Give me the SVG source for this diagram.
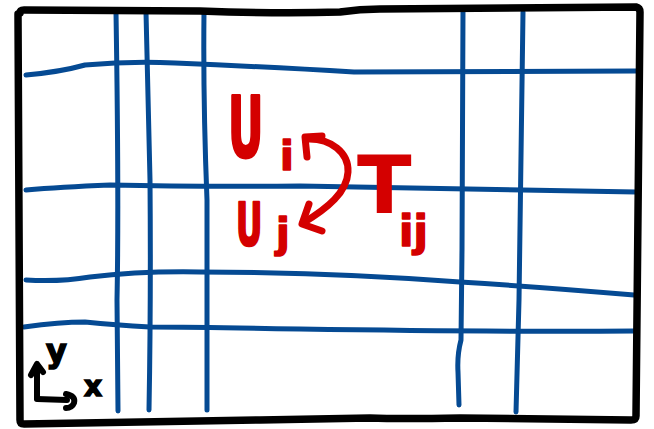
<svg xmlns="http://www.w3.org/2000/svg" width="654" height="429" viewBox="0 0 654 429">
<style>
.frame{fill:none;stroke:#000;stroke-width:7.5;stroke-linejoin:round;stroke-linecap:round}
.grid{fill:none;stroke:#054a93;stroke-width:5;stroke-linecap:round;stroke-linejoin:round}
.red{fill:#d40000;stroke:#d40000;stroke-linejoin:round;font-family:"DejaVu Sans",sans-serif;font-weight:bold}
.conn{fill:none;stroke:#d40000;stroke-width:7;stroke-linecap:round;stroke-linejoin:round}
.ax{fill:none;stroke:#000;stroke-width:6;stroke-linecap:round;stroke-linejoin:round}
.axt{fill:#000;stroke:#000;stroke-width:1.5;font-family:"DejaVu Sans",sans-serif;font-weight:bold}
</style>
<rect width="654" height="429" fill="#fff"/>
<g id="grid">
<path class="grid" d="M116,12 Q119,200 117,300 L118,411"/>
<path class="grid" d="M146,12 Q148,100 150,180 Q151,300 149,410"/>
<path class="grid" d="M204,12 Q203,100 207,200 L207,410"/>
<path class="grid" d="M463,8 Q462,150 462,250 L461,340 Q457,355 458,372 L459,405"/>
<path class="grid" d="M523,12 Q521,200 519,300 L516,412"/>
<path class="grid" d="M26,75 Q60,72 85,65 Q130,61 175,63 Q270,67 354,72 L636,71"/>
<path class="grid" d="M26,190 Q60,187 110,185 Q200,187 300,186 Q450,188 636,192"/>
<path class="grid" d="M26,280 Q60,282 90,277 Q140,271 200,272 Q330,272 460,282 Q540,287 634,295"/>
<path class="grid" d="M24,327 Q60,322 85,322 Q115,325 150,327 Q200,327 300,329 Q500,332 634,331"/>
</g>
<g id="frame">
<path class="frame" d="M20,13 Q20,10 24,10 L200,11 Q280,14 340,12 Q360,9 380,9 L636,7 Q640,8 640,12 L636,416 Q636,420 631,420 L460,418 Q400,419 370,418 L260,420 L24,424 Q20,424 20,420 L18,14"/>
</g>
<g id="node-Ui">
<text class="red" transform="translate(228,157) scale(0.52,1)" font-size="84" stroke-width="3">U</text>
<text class="red" x="280" y="170" font-size="40" stroke-width="1.5">i</text>
</g>
<g id="node-Uj">
<text class="red" transform="translate(236,245) scale(0.56,1)" font-size="58" stroke-width="2.5">U</text>
<text class="red" x="276" y="247" font-size="40" stroke-width="1.5">j</text>
</g>
<g id="node-Tij">
<text class="red" x="357" y="213" font-size="80" stroke-width="0" font-weight="normal" letter-spacing="-8">T</text>
<text class="red" x="399" y="246" font-size="42" stroke-width="1.5">ij</text>
</g>
<g id="connectors">
<path class="conn" d="M307,139 C331,138 349,153 348,172 C347,192 328,208 303,223"/>
<path class="conn" d="M322,136 L305,137 L307,157"/>
<path class="conn" d="M309,204 L302,224 L322,231"/>
</g>
<g id="axes">
<path class="ax" d="M37,398 L37,366"/>
<path class="ax" d="M31,375 L37,364 L43,372"/>
<path class="ax" d="M37,399 L67,400"/>
<path class="ax" d="M66,394 Q76,396 74,403 Q72,408 66,408"/>
<text class="axt" x="46" y="362" font-size="32">y</text>
<text class="axt" x="84" y="396" font-size="28">x</text>
</g>
</svg>
